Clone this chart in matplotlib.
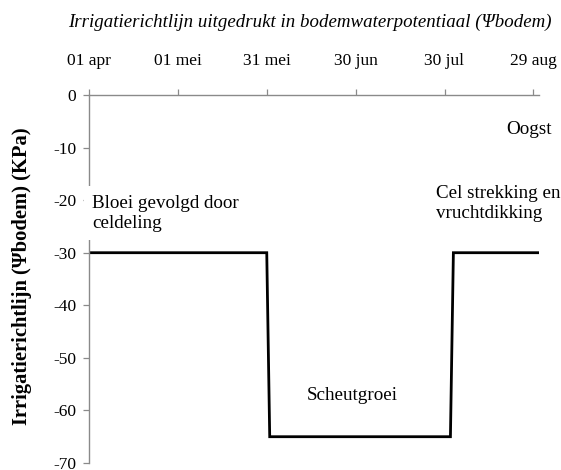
import matplotlib
matplotlib.use("Agg")
import numpy as np
import matplotlib.pyplot as plt

# ── Data ─────────────────────────────────────────────────────
dates = np.array(["2013-04-01", "2013-05-31", "2013-06-01",
                  "2013-08-01", "2013-08-02", "2013-08-31"], dtype="datetime64[D]")
psi = [-30, -30, -65, -65, -30, -30]

tick_dates = np.array(["2013-04-01", "2013-05-01", "2013-05-31",
                       "2013-06-30", "2013-07-30", "2013-08-29"], dtype="datetime64[D]")
tick_labels = ["01 apr", "01 mei", "31 mei", "30 jun", "30 jul", "29 aug"]
y_ticks = [0, -10, -20, -30, -40, -50, -60, -70]

AXIS_GREY = "#8a8a8a"
plt.rcParams["font.family"] = ["Liberation Serif", "DejaVu Serif"]

fig = plt.figure(figsize=(5.61, 4.70), dpi=100)
ax = fig.add_axes([89 / 561, 1 - 463 / 470, 450.3 / 561, 368 / 470])

ax.plot(dates, psi, color="black", linewidth=2.0, solid_joinstyle="miter", zorder=2)

ax.set_xlim(np.datetime64("2013-04-01"), np.datetime64("2013-08-31"))
ax.set_ylim(-70, 0)

# x-axis sits at y = 0 (top of the plot)
ax.xaxis.tick_top()
ax.set_xticks(tick_dates)
ax.set_xticklabels(tick_labels, fontsize=12.5)
ax.tick_params(axis="x", direction="out", length=4, width=0.9, color=AXIS_GREY, pad=15)
ax.set_yticks(y_ticks)
ax.set_yticklabels([str(v) for v in y_ticks], fontsize=12.5)
ax.tick_params(axis="y", direction="out", length=4, width=0.9, color=AXIS_GREY, pad=5)

for side in ["right", "bottom"]:
    ax.spines[side].set_visible(False)
for side in ["top", "left"]:
    ax.spines[side].set_color(AXIS_GREY)
    ax.spines[side].set_linewidth(1.0)

fig.text(22 / 561, 1 - 276 / 470, "Irrigatierichtlijn (Ψbodem) (KPa)",
         fontsize=14.8, fontweight="bold", rotation=90, ha="center", va="center")

# ── Annotations ───────────────────────────────────────────────
box = dict(facecolor="white", edgecolor="none", pad=6)
ax.text(np.datetime64("2013-04-02"), -22.5, "Bloei gevolgd door\nceldeling",
        fontsize=13.7, ha="left", va="center", linespacing=1.22, bbox=box, zorder=3)
ax.text(np.datetime64("2013-07-27"), -20.7, "Cel strekking en\nvruchtdikking",
        fontsize=13.7, ha="left", va="center", linespacing=1.22, zorder=3)
ax.text(np.datetime64("2013-08-20"), -6.5, "Oogst",
        fontsize=13.7, ha="left", va="center", zorder=3)
ax.text(np.datetime64("2013-06-29"), -57.1, "Scheutgroei",
        fontsize=13.7, ha="center", va="center", zorder=3)

fig.text(310 / 561, 1 - 22 / 470,
         "Irrigatierichtlijn uitgedrukt in bodemwaterpotentiaal (Ψbodem)",
         fontsize=13.6, style="italic", ha="center", va="center")

fig.savefig("out.png", dpi=100)
